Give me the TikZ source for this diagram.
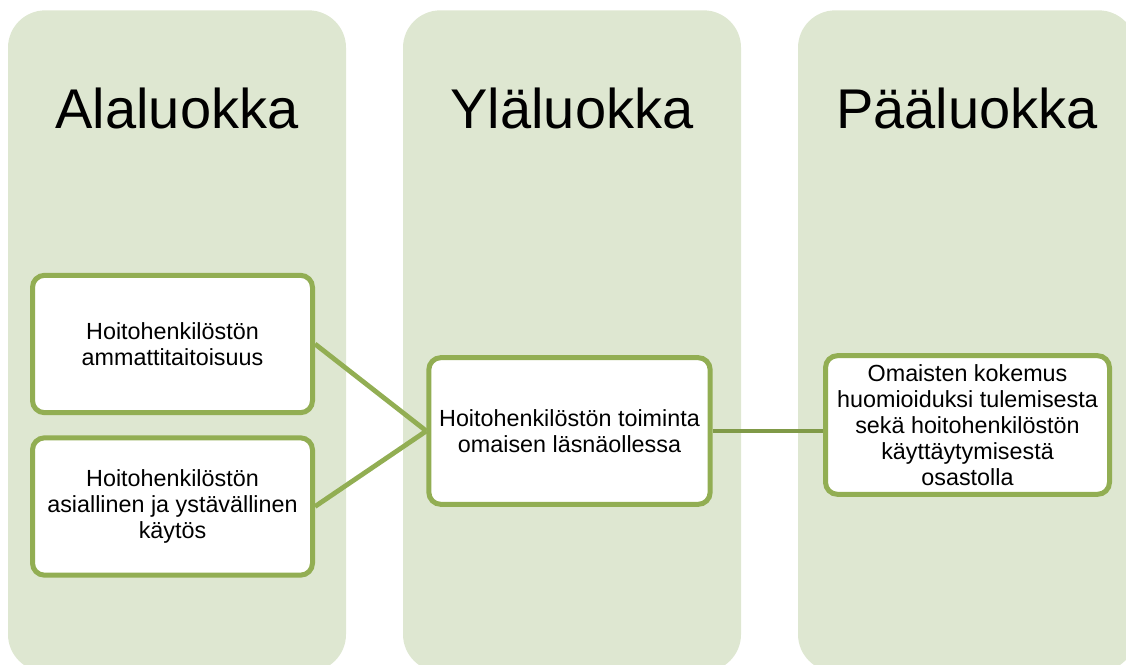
\documentclass[tikz,border=0pt]{standalone}
\usepackage{fontspec}
\setmainfont{Liberation Sans}
\usetikzlibrary{positioning}
\definecolor{colfill}{RGB}{222,231,209}
\definecolor{boxline}{RGB}{146,174,83}
\definecolor{linkline}{RGB}{128,154,72}
\tikzset{
    column/.style={
        rectangle,
        rounded corners=28pt,
        fill=colfill,
        minimum width=253.5pt,
        minimum height=496pt,
    },
    heading/.style={
        font=\fontsize{42}{50}\selectfont,
        anchor=base,
    },
    category/.style={
        rectangle,
        rounded corners=9pt,
        draw=boxline,
        line width=3.75pt,
        fill=white,
        align=center,
        font=\fontsize{17.5}{19.5}\selectfont,
    },
}

\begin{document}
\begin{tikzpicture}[
    x=0.75pt,
    y=-0.75pt]

\useasboundingbox (0,0) rectangle (1126,664);
\clip (0,0) rectangle (1126,664);

% columns
\node [column] (col_1) at (177,341) {};
\node [column] (col_2) at (572,341) {};
\node [column] (col_3) at (967,341) {};

\node [heading] (h_1) at (177,128) {Alaluokka};
\node [heading] (h_2) at (572,128) {Yläluokka};
\node [heading] (h_3) at (967,128) {Pääluokka};

% Alaluokka
\node
[
    category,
    minimum width=210pt,
    minimum height=103pt
] (sub_1) at (172.5,344)
{
    Hoitohenkilöstön\\
    ammattitaitoisuus
};
\node
[
    category,
    minimum width=210pt,
    minimum height=103pt
] (sub_2) at (172.5,506.5)
{
    Hoitohenkilöstön\\
    asiallinen ja ystävällinen\\
    käytös
};
% Yläluokka
\node
[
    category,
    minimum width=211pt,
    minimum height=110pt
] (upper) at (569.5,431)
{
    Hoitohenkilöstön toiminta\\
    omaisen läsnäollessa
};
% Pääluokka
\node
[
    category,
    minimum width=213pt,
    minimum height=104pt
] (main) at (967.5,425)
{
    Omaisten kokemus\\
    huomioiduksi tulemisesta\\
    sekä hoitohenkilöstön\\
    käyttäytymisestä\\
    osastolla
};

% Links
\draw [boxline, line width=3.6pt] (sub_1.east) -- (upper.west);
\draw [boxline, line width=3.6pt] (sub_2.east) -- (upper.west);
\draw [linkline, line width=3.6pt] (upper.east) -- (upper.east -| main.west);

\end{tikzpicture}
\end{document}
